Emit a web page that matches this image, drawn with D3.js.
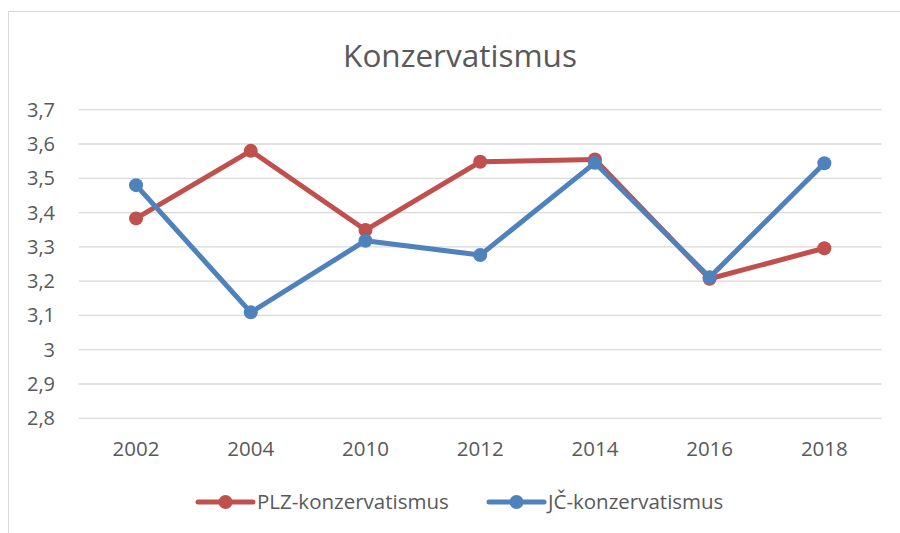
<!DOCTYPE html>
<html>
<head>
<meta charset="utf-8">
<script src="https://cdn.jsdelivr.net/npm/d3@7"></script>
<style>
  body { margin: 0; background: #fff; }
  svg { display: block; font-family: "Open Sans", Lato, sans-serif; }
</style>
</head>
<body>
<div id="chart"></div>
<script>
const years = ["2002", "2004", "2010", "2012", "2014", "2016", "2018"];
const plzValues = [3.383, 3.580, 3.349, 3.548, 3.555, 3.207, 3.296];
const jcValues = [3.480, 3.109, 3.318, 3.276, 3.545, 3.211, 3.544];
const yTicks = [2.8, 2.9, 3.0, 3.1, 3.2, 3.3, 3.4, 3.5, 3.6, 3.7];

const series = [
    { name: "PLZ-konzervatismus", values: plzValues, color: "#C0504D" },
    { name: "JČ-konzervatismus", values: jcValues, color: "#4F81BD" }
];

const W = 900, H = 533;
const svg = d3.select("#chart").append("svg")
    .attr("width", W)
    .attr("height", H);

// chart border
svg.append("rect")
    .attr("x", 8.5).attr("y", 11.5)
    .attr("width", 905).attr("height", 540)
    .attr("fill", "#fff")
    .attr("stroke", "#d9d9d9")
    .attr("stroke-width", 1);

svg.append("text")
    .attr("x", 460)
    .attr("y", 67)
    .attr("text-anchor", "middle")
    .attr("fill", "#595959")
    .style("font-size", "31.5px")
    .text("Konzervatismus");

const x = d3.scaleBand()
    .domain(years)
    .range([78.7, 881.7]);

const y = d3.scaleLinear()
    .domain([2.8, 3.7])
    .range([418.3, 109.7]);

// gridlines
svg.append("g")
    .selectAll("line")
    .data(yTicks)
    .enter()
    .append("line")
    .attr("x1", x.range()[0])
    .attr("x2", x.range()[1])
    .attr("y1", d => y(d))
    .attr("y2", d => y(d))
    .attr("stroke", "#d9d9d9")
    .attr("stroke-width", 1.3);

const fmt = d => d3.format(".1f")(d).replace(/\.0$/, "").replace(".", ",");

// y labels
svg.append("g")
    .selectAll("text")
    .data(yTicks)
    .enter()
    .append("text")
    .attr("x", 55)
    .attr("y", d => y(d))
    .attr("dy", "0.35em")
    .attr("text-anchor", "end")
    .attr("fill", "#595959")
    .style("font-size", "20px")
    .text(fmt);

// x labels
svg.append("g")
    .selectAll("text")
    .data(years)
    .enter()
    .append("text")
    .attr("x", d => x(d) + x.bandwidth() / 2)
    .attr("y", 456)
    .attr("text-anchor", "middle")
    .attr("fill", "#595959")
    .style("font-size", "20.5px")
    .text(d => d);

const line = d3.line()
    .x((d, i) => x(years[i]) + x.bandwidth() / 2)
    .y(d => y(d));

series.forEach(s => {
    const g = svg.append("g");
    g.append("path")
        .datum(s.values)
        .attr("fill", "none")
        .attr("stroke", s.color)
        .attr("stroke-width", 5)
        .attr("stroke-linejoin", "round")
        .attr("stroke-linecap", "round")
        .attr("d", line);
    g.selectAll("circle")
        .data(s.values)
        .enter()
        .append("circle")
        .attr("cx", (d, i) => x(years[i]) + x.bandwidth() / 2)
        .attr("cy", d => y(d))
        .attr("r", 7)
        .attr("fill", s.color);
});

// legend
const legendItems = [
    { s: series[0], x0: 198 },
    { s: series[1], x0: 489 }
];
legendItems.forEach(item => {
    const g = svg.append("g").attr("transform", `translate(${item.x0},502)`);
    g.append("line")
        .attr("x1", 0).attr("x2", 55)
        .attr("stroke", item.s.color)
        .attr("stroke-width", 5)
        .attr("stroke-linecap", "round");
    g.append("circle")
        .attr("cx", 27.5)
        .attr("r", 7)
        .attr("fill", item.s.color);
    g.append("text")
        .attr("x", 59)
        .attr("dy", "0.35em")
        .attr("fill", "#595959")
        .style("font-size", "20.5px")
        .text(item.s.name);
});
</script>
</body>
</html>
